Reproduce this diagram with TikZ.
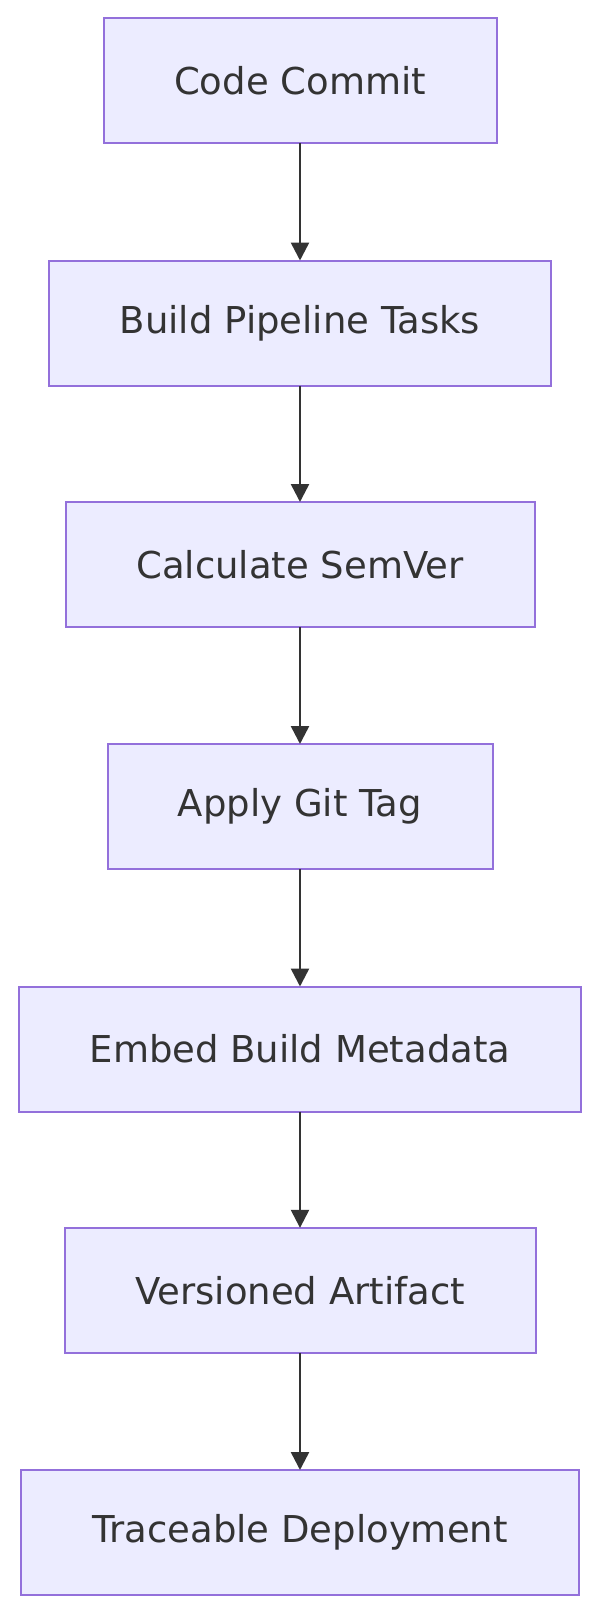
\documentclass[tikz,border=0pt]{standalone}
\usepackage{fontspec}
\setmainfont{DejaVu Sans}
\usetikzlibrary{arrows.meta}
\definecolor{boxfill}{HTML}{ECECFF}
\definecolor{boxline}{HTML}{9370DB}
\definecolor{ink}{HTML}{333333}
\tikzset{
  flowbox/.style={draw=boxline, fill=boxfill, line width=2pt, text=ink,
    minimum height=125pt, inner sep=0pt, outer sep=0pt, font=\fontsize{37}{44}\selectfont},
  flowarrow/.style={draw=ink, line width=2.5pt, -{Triangle[length=18pt,width=18pt]}}
}
\begin{document}
\begin{tikzpicture}[x=1pt,y=-1pt]
\useasboundingbox (0,0) rectangle (600,1616);
\node[flowbox, minimum width=393pt] (n1) at (300,81) {Code Commit};
\node[flowbox, minimum width=502pt] (n2) at (300,323) {Build Pipeline Tasks};
\node[flowbox, minimum width=469pt] (n3) at (300,564.5) {Calculate SemVer};
\node[flowbox, minimum width=385pt] (n4) at (300,806.5) {Apply Git Tag};
\node[flowbox, minimum width=562pt] (n5) at (300,1049) {Embed Build Metadata};
\node[flowbox, minimum width=471pt] (n6) at (300,1290.3) {Versioned Artifact};
\node[flowbox, minimum width=558pt] (n7) at (300,1532.5) {Traceable Deployment};
\draw[flowarrow] (n1) -- (n2);
\draw[flowarrow] (n2) -- (n3);
\draw[flowarrow] (n3) -- (n4);
\draw[flowarrow] (n4) -- (n5);
\draw[flowarrow] (n5) -- (n6);
\draw[flowarrow] (n6) -- (n7);
\end{tikzpicture}
\end{document}
